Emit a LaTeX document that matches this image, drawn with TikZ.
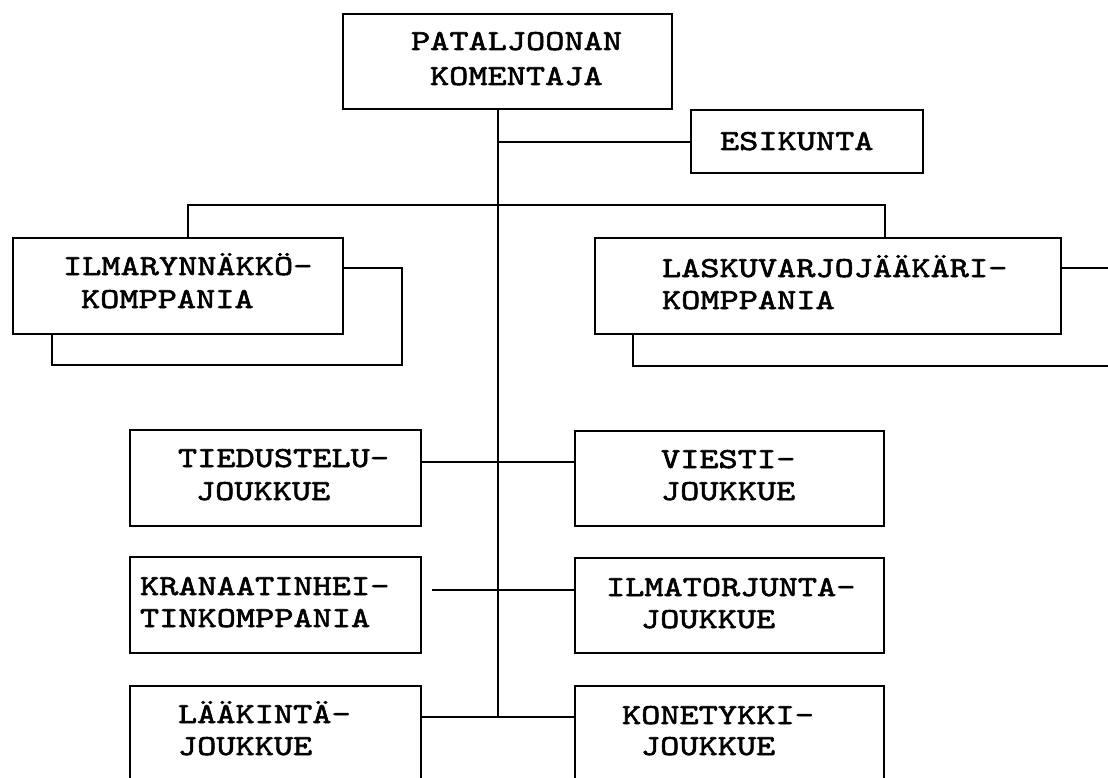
\documentclass[tikz,border=0pt]{standalone}
\usepackage{fontspec}
% slab-serif typewriter face, widened to typewriter pitch and inked a little heavier
\newfontfamily\typew[FakeStretch=1.26,FakeBold=2]{lmmono10-regular.otf}
\begin{document}
\begin{tikzpicture}[x=1pt,y=-1pt,
  box/.style={draw, line width=2.6pt, rectangle, inner sep=0pt, outer sep=0pt, anchor=north west},
  lbl/.style={anchor=base west, inner sep=0pt, outer sep=0pt,
    font=\typew\fontsize{29}{34}\selectfont},
  link/.style={line width=2.6pt}]
\useasboundingbox (0,0) rectangle (1108,778);
\fill[white] (0,0) rectangle (1108,778);
\clip (0,0) rectangle (1108,778);

% boxes
\node[box, minimum width=329pt, minimum height=95pt] (kom) at (343,14) {};
\node[box, minimum width=232pt, minimum height=63pt] (esi) at (691,110) {};
\node[box, minimum width=330pt, minimum height=96pt] (ilma) at (13,238) {};
\node[box, minimum width=466pt, minimum height=96pt] (lasku) at (595,238) {};
\node[box, minimum width=291pt, minimum height=96pt] (tied) at (130,430) {};
\node[box, minimum width=309pt, minimum height=95pt] (viesti) at (575,431) {};
\node[box, minimum width=291pt, minimum height=96pt] (krana) at (130,557) {};
\node[box, minimum width=309pt, minimum height=95pt] (ilmat) at (575,558) {};
\node[box, minimum width=291pt, minimum height=130pt] (laak) at (130,686) {};
\node[box, minimum width=309pt, minimum height=130pt] (kone) at (575,686) {};

% labels
\node[lbl] (kom1) at (411,50) {PATALJOONAN};
\node[lbl] (kom2) at (430,85) {KOMENTAJA};
\node[lbl] (esi1) at (720,150) {ESIKUNTA};
\node[lbl] (ilma1) at (63,275) {ILMARYNNÄKKÖ-};
\node[lbl] (ilma2) at (81,308) {KOMPPANIA};
\node[lbl] (lasku1) at (662,277) {LASKUVARJOJÄÄKÄRI-};
\node[lbl] (lasku2) at (662,309) {KOMPPANIA};
\node[lbl] (tied1) at (178,467) {TIEDUSTELU-};
\node[lbl] (tied2) at (196,500) {JOUKKUE};
\node[lbl] (viesti1) at (661,468) {VIESTI-};
\node[lbl] (viesti2) at (661,500) {JOUKKUE};
\node[lbl] (krana1) at (140,595) {KRANAATINHEI-};
\node[lbl] (krana2) at (140,627) {TINKOMPPANIA};
\node[lbl] (ilmat1) at (606,596) {ILMATORJUNTA-};
\node[lbl] (ilmat2) at (641,628) {JOUKKUE};
\node[lbl] (laak1) at (178,723) {LÄÄKINTÄ-};
\node[lbl] (laak2) at (178,755) {JOUKKUE};
\node[lbl] (kone1) at (622,724) {KONETYKKI-};
\node[lbl] (kone2) at (641,755) {JOUKKUE};

% junction points on the trunk and line bends
\coordinate (tx) at (498,0);
\coordinate (jE) at (498,142);
\coordinate (j1) at (498,462);
\coordinate (j2) at (498,590);
\coordinate (jEnd) at (498,717);
\coordinate (barL) at (188,205);
\coordinate (barR) at (885,205);
\coordinate (ilA) at (402,268);
\coordinate (ilB) at (402,365);
\coordinate (ilC) at (52,365);
\coordinate (laA) at (1110,268);
\coordinate (laB) at (633,366);
\coordinate (laC) at (1110,366);
\coordinate (k2) at (432,590);

% connectors
\draw[link] (kom.south -| tx) -- (jEnd);
\draw[link] (jE) -- (esi.west |- jE);
\draw[link] (ilma.north -| barL) -- (barL) -- (barR) -- (lasku.north -| barR);
\draw[link] (ilma.east |- ilA) -- (ilA) -- (ilB) -- (ilC) -- (ilma.south -| ilC);
\draw[link] (lasku.east |- laA) -- (laA);
\draw[link] (lasku.south -| laB) -- (laB) -- (laC);
\draw[link] (tied.east |- j1) -- (viesti.west |- j1);
\draw[link] (k2) -- (ilmat.west |- j2);
\draw[link] (laak.east |- jEnd) -- (kone.west |- jEnd);
\end{tikzpicture}
\end{document}
